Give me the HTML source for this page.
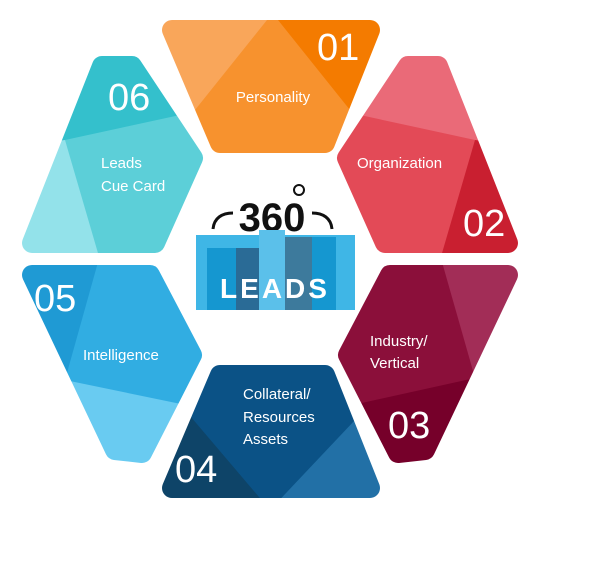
<!DOCTYPE html>
<html><head><meta charset="utf-8"><style>
html,body{margin:0;padding:0;background:#fff;width:608px;height:568px;overflow:hidden}
svg{display:block}
text{font-family:"Liberation Sans",sans-serif;fill:#fff}
</style></head><body>
<svg width="608" height="568" viewBox="0 0 608 568">
<defs>
<mask id="m1"><polygon points="172,30 370,30 325,143 220,143" fill="#fff" stroke="#fff" stroke-width="20" stroke-linejoin="round"/></mask>
<mask id="m2"><polygon points="408,66 438,66 508,243 385,243 347,158" fill="#fff" stroke="#fff" stroke-width="20" stroke-linejoin="round"/></mask>
<mask id="m3"><polygon points="390,275 508,275 425,450 398,453 348,355" fill="#fff" stroke="#fff" stroke-width="20" stroke-linejoin="round"/></mask>
<mask id="m4"><polygon points="220,375 325,375 370,488 172,488" fill="#fff" stroke="#fff" stroke-width="20" stroke-linejoin="round"/></mask>
<mask id="m5"><polygon points="150,275 32,275 115,450 142,453 192,355" fill="#fff" stroke="#fff" stroke-width="20" stroke-linejoin="round"/></mask>
<mask id="m6"><polygon points="132,66 102,66 32,243 155,243 193,158" fill="#fff" stroke="#fff" stroke-width="20" stroke-linejoin="round"/></mask>
</defs>
<g mask="url(#m1)">
<rect x="140" y="0" width="260" height="170" fill="#f7922e"/>
<polygon points="150,10 275,10 195,110 150,110" fill="#f9a65a"/>
<polygon points="270,10 400,10 400,110 350,110" fill="#f47b00"/>
</g>
<g mask="url(#m2)">
<rect x="320" y="40" width="220" height="230" fill="#e34a57"/>
<polygon points="330,40 540,40 540,150 475,140 360,115 330,120" fill="#ea6a78"/>
<polygon points="475,140 540,150 540,260 440,260" fill="#c91f30"/>
</g>
<g mask="url(#m3)">
<rect x="320" y="255" width="220" height="230" fill="#8b0f3a"/>
<polygon points="440,255 540,255 540,380 475,378" fill="#a22d57"/>
<polygon points="330,410 475,378 540,380 540,480 330,480" fill="#76002a"/>
</g>
<g mask="url(#m4)">
<rect x="140" y="350" width="260" height="170" fill="#0b5286"/>
<polygon points="150,430 185,410 270,510 150,510" fill="#0e4468"/>
<polygon points="355,420 400,420 400,510 270,510" fill="#2270a6"/>
</g>
<g mask="url(#m5)">
<rect x="0" y="255" width="220" height="230" fill="#31ade2"/>
<polygon points="100,255 0,255 0,380 65,380" fill="#1f9ad4"/>
<polygon points="65,380 210,410 210,480 0,480 0,380" fill="#69cbf1"/>
</g>
<g mask="url(#m6)">
<rect x="0" y="40" width="220" height="230" fill="#5ccfd8"/>
<polygon points="210,40 0,40 0,150 65,140 180,115 210,120" fill="#34c0cc"/>
<polygon points="65,140 0,150 0,260 100,260" fill="#93e2ea"/>
</g>
<text x="273" y="102" font-size="15" text-anchor="middle">Personality</text>
<text x="317" y="60" font-size="38">01</text>
<text x="357" y="168" font-size="15">Organization</text>
<text x="463" y="236" font-size="38">02</text>
<text x="370" y="346" font-size="15">Industry/</text>
<text x="370" y="368" font-size="15">Vertical</text>
<text x="388" y="438" font-size="38">03</text>
<text x="243" y="399" font-size="15">Collateral/</text>
<text x="243" y="422" font-size="15">Resources</text>
<text x="243" y="444" font-size="15">Assets</text>
<text x="175" y="482" font-size="38">04</text>
<text x="34" y="311" font-size="38">05</text>
<text x="83" y="360" font-size="15">Intelligence</text>
<text x="108" y="110" font-size="38">06</text>
<text x="101" y="168" font-size="15">Leads</text>
<text x="101" y="191" font-size="15">Cue Card</text>
<path d="M213,229 C214,218 222,213 233,213" fill="none" stroke="#111" stroke-width="3"/>
<path d="M332,229 C331,218 323,213 312,213" fill="none" stroke="#111" stroke-width="3"/>
<text x="272" y="231" font-size="40" font-weight="bold" text-anchor="middle" style="fill:#111">360</text>
<circle cx="299" cy="190" r="5" fill="none" stroke="#111" stroke-width="2"/>
<rect x="196" y="235" width="159" height="75" fill="#3fb6e6"/>
<rect x="207" y="248" width="29" height="62" fill="#1597d0"/>
<rect x="236" y="248" width="23" height="62" fill="#2a6b96"/>
<rect x="259" y="230" width="26" height="80" fill="#5bc0ea"/>
<rect x="285" y="237" width="27" height="73" fill="#3d7a9c"/>
<rect x="312" y="237" width="24" height="73" fill="#1597d0"/>
<text x="275" y="298" font-size="28" font-weight="bold" text-anchor="middle" letter-spacing="3">LEADS</text>
</svg>
</body></html>
